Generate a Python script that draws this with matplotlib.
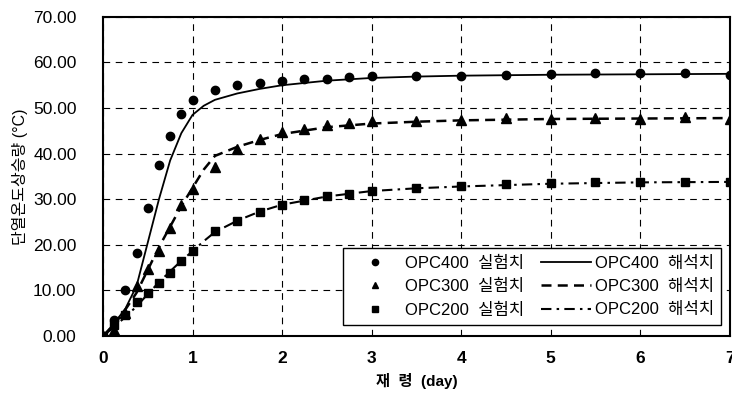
import matplotlib
matplotlib.use("Agg")
import matplotlib.pyplot as plt
from matplotlib.ticker import FormatStrFormatter

plt.rcParams['font.family'] = ['Liberation Sans', 'Noto Sans CJK KR', 'DejaVu Sans']

# experiment points (days, temperature rise)
exp_days = [0, 0.125, 0.25, 0.375, 0.5, 0.625, 0.75, 0.875, 1.0, 1.25, 1.5, 1.75, 2.0,
            2.25, 2.5, 2.75, 3.0, 3.5, 4.0, 4.5, 5.0, 5.5, 6.0, 6.5, 7.0]
exp400 = [0, 3.5, 10.0, 18.3, 28.0, 37.4, 43.8, 48.8, 51.7, 53.9, 55.0, 55.6, 55.9,
          56.4, 56.4, 56.7, 57.0, 57.1, 57.0, 57.3, 57.4, 57.6, 57.6, 57.6, 57.3]
exp300 = [0, 1.3, 5.0, 11.0, 14.6, 18.6, 23.8, 28.7, 32.2, 37.0, 41.1, 43.3, 44.7,
          45.5, 46.2, 46.7, 47.1, 47.1, 47.3, 47.8, 47.7, 47.8, 47.7, 48.1, 47.5]
exp200 = [0, 2.4, 4.6, 7.4, 9.5, 11.7, 13.9, 16.4, 18.6, 23.0, 25.2, 27.3, 28.7,
          29.8, 30.7, 31.1, 31.8, 32.4, 32.8, 33.3, 33.5, 33.7, 33.7, 33.8, 33.8]

# analysis curves
ana_days = [0, 0.125, 0.25, 0.375, 0.5, 0.625, 0.75, 0.875, 1.0, 1.125, 1.25, 1.5, 1.75,
            2.0, 2.5, 3.0, 3.5, 4.0, 5.0, 6.0, 7.0]
ana400 = [0, 2.8, 6.0, 11.0, 20.5, 30.0, 38.5, 44.5, 48.5, 50.5, 51.8, 53.2, 54.2,
          55.0, 56.0, 56.6, 56.9, 57.1, 57.3, 57.4, 57.5]
ana300 = [0, 2.5, 5.8, 9.5, 14.5, 19.5, 24.0, 28.5, 32.5, 36.5, 39.5, 41.5, 43.0,
          44.3, 45.8, 46.6, 47.0, 47.3, 47.6, 47.7, 47.8]
ana200 = [0, 2.0, 4.2, 6.5, 9.2, 11.8, 14.2, 16.5, 18.6, 20.8, 22.8, 25.3, 27.3,
          28.8, 30.6, 31.8, 32.4, 32.8, 33.4, 33.7, 33.8]

fig = plt.figure(figsize=(7.32, 4.01), dpi=100)
ax = fig.add_axes([0.1407, 0.162, 0.8563, 0.796])

ax.plot(exp_days, exp400, 'o', color='black', ms=6, label='OPC400  실험치', zorder=3)
ax.plot(exp_days, exp300, '^', color='black', ms=6.5, label='OPC300  실험치', zorder=3)
ax.plot(exp_days, exp200, 's', color='black', ms=5.5, label='OPC200  실험치', zorder=3)
ax.plot(ana_days, ana400, '-', color='black', lw=1.3, label='OPC400  해석치')
ax.plot(ana_days, ana300, '--', color='black', lw=1.8, dashes=(4, 2.5), label='OPC300  해석치')
ax.plot(ana_days, ana200, '-.', color='black', lw=1.5, dashes=(5, 2.5, 1.2, 2.5), label='OPC200  해석치')

ax.set_xlim(0, 7)
ax.set_ylim(0, 70)
ax.set_xticks(range(0, 8))
ax.set_yticks(range(0, 80, 10))
ax.yaxis.set_major_formatter(FormatStrFormatter('%.2f'))
ax.tick_params(length=0, labelsize=12.5)
ax.tick_params(axis='y', pad=19)
ax.tick_params(axis='x', pad=11)
for lab in ax.get_xticklabels():
    lab.set_fontweight('bold')
ax.grid(True, color='black', ls=(0, (6, 5)), lw=0.8)
for s in ax.spines.values():
    s.set_linewidth(1.5)

ax.set_xlabel('재  령  (day)', fontsize=11, fontweight='bold', labelpad=5)
ax.set_ylabel('단열온도상승량 (°C)', fontsize=11.5, labelpad=4)

leg = ax.legend(ncol=2, loc='lower right', bbox_to_anchor=(1.0, 0.008),
                fontsize=12, frameon=True, fancybox=False, edgecolor='black',
                framealpha=1, handlelength=3.0, handletextpad=0.25, markerscale=0.75,
                columnspacing=1.0, labelspacing=0.5, borderpad=0.45)
leg.get_frame().set_linewidth(1.0)

plt.savefig('out.png', dpi=100)
